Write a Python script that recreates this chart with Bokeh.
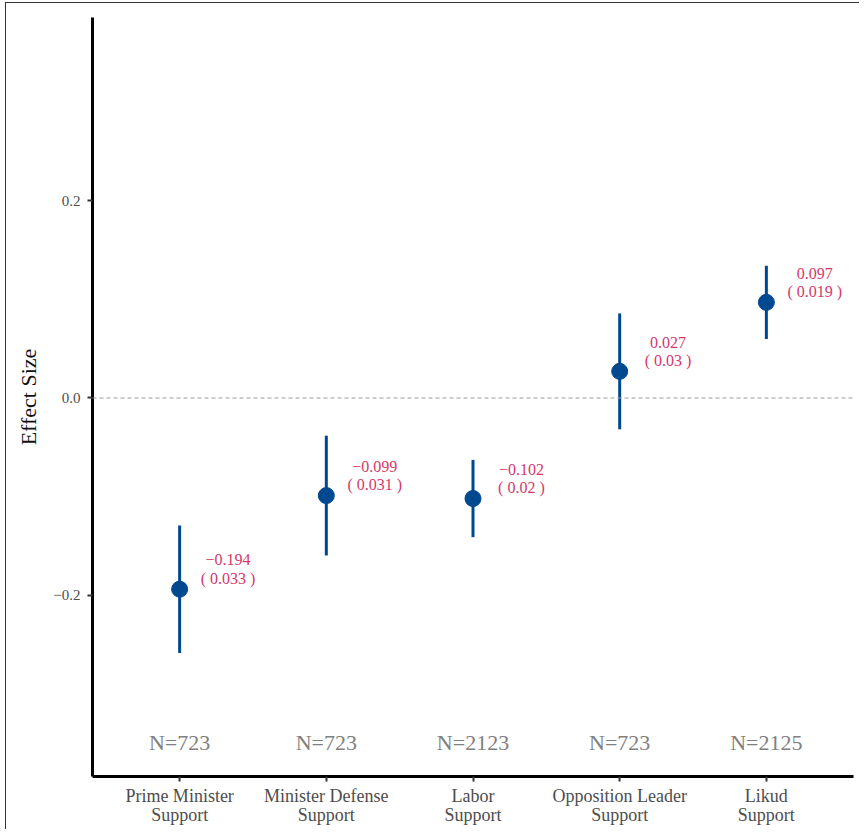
import numpy as np
from bokeh.plotting import figure
from bokeh.models import (ColumnDataSource, Range1d, FixedTicker, CustomJSTickFormatter,
                          Span, InlineStyleSheet)
from bokeh.core.properties import value
from bokeh.embed import file_html
from bokeh.resources import INLINE

# ---- data ----
categories = ["Prime Minister\nSupport", "Minister Defense\nSupport", "Labor\nSupport",
              "Opposition Leader\nSupport", "Likud\nSupport"]
estimates = [-0.194, -0.099, -0.102, 0.027, 0.097]
std_errors = [0.033, 0.031, 0.02, 0.03, 0.019]
n_obs = [723, 723, 2123, 723, 2125]
y_ticks = [-0.2, 0.0, 0.2]
n_label_y = -0.35

FONT = "Liberation Serif"
POINT_COLOR = "#00488f"
LABEL_COLOR = "#d4386a"

xs = np.arange(1, len(categories) + 1)
est = np.array(estimates)
se = np.array(std_errors)
lo = est - 1.96 * se
hi = est + 1.96 * se

labels = [f"{e:.3f}".replace("-", "\u2212") + "\n( " + f"{s:g}" + " )"
          for e, s in zip(estimates, std_errors)]

src = ColumnDataSource(dict(x=xs, est=est, lo=lo, hi=hi,
                            lx=xs + 0.33, ly=est + 0.0203, lab=labels,
                            ny=[n_label_y] * len(xs),
                            nlab=[f"N={n}" for n in n_obs]))

p = figure(width=859, height=829, output_backend="svg", toolbar_location=None,
           x_range=Range1d(0.406, 5.594), y_range=Range1d(-0.384, 0.386),
           min_border_left=92, min_border_right=6, min_border_top=17, min_border_bottom=53)
p.stylesheets = [InlineStyleSheet(css=""":host { position: relative; }
:host::after { content: ""; position: absolute; left: 5px; top: 2px; right: 0; bottom: 0;
  border-top: 1px solid #333; border-left: 1px solid #333; pointer-events: none; }""")]

p.outline_line_color = None
p.xgrid.visible = False
p.ygrid.visible = False
p.background_fill_color = "white"
p.border_fill_color = "white"

zero = Span(location=0, dimension="width", line_color="#9a9a9a", line_width=1, line_dash="4 3")
p.add_layout(zero)

p.segment(x0="x", y0="lo", x1="x", y1="hi", source=src, line_color=POINT_COLOR, line_width=3)
p.scatter(x="x", y="est", source=src, size=16, fill_color=POINT_COLOR, line_color=POINT_COLOR)

p.text(x="lx", y="ly", text="lab", source=src, text_font=value(FONT), text_font_size="16px",
       text_color=LABEL_COLOR, text_align="center", text_baseline="middle", text_line_height=1.1)

p.text(x="x", y="ny", text="nlab", source=src, text_font=value(FONT), text_font_size="22px",
       text_color="#808080", text_align="center", text_baseline="middle")

# axes
for ax in (p.xaxis[0], p.yaxis[0]):
    ax.axis_line_color = "black"
    ax.axis_line_width = 3
    ax.major_tick_line_color = "#333333"
    ax.major_tick_line_width = 2
    ax.major_tick_out = 5
    ax.major_tick_in = 0
    ax.minor_tick_line_color = None
    ax.major_label_text_font = FONT
    ax.major_label_text_color = "#4d4d4d"

p.yaxis.ticker = FixedTicker(ticks=y_ticks)
p.yaxis.formatter = CustomJSTickFormatter(code="return tick.toFixed(1).replace('-', '\u2212');")
p.yaxis.major_label_text_font_size = "15px"
p.yaxis.major_label_standoff = 7
p.yaxis.axis_label = "Effect Size"
p.yaxis.axis_label_text_font = FONT
p.yaxis.axis_label_text_font_style = "normal"
p.yaxis.axis_label_text_font_size = "22px"
p.yaxis.axis_label_text_color = "#111111"
p.yaxis.axis_label_standoff = 9

p.xaxis.ticker = FixedTicker(ticks=list(xs))
p.xaxis.major_label_overrides = {int(x): c for x, c in zip(xs, categories)}
p.xaxis.major_label_text_font_size = "18px"
p.xaxis.major_label_text_line_height = 0.95
p.xaxis.major_label_standoff = 4

open("out.html", "w").write(file_html(p, INLINE))
